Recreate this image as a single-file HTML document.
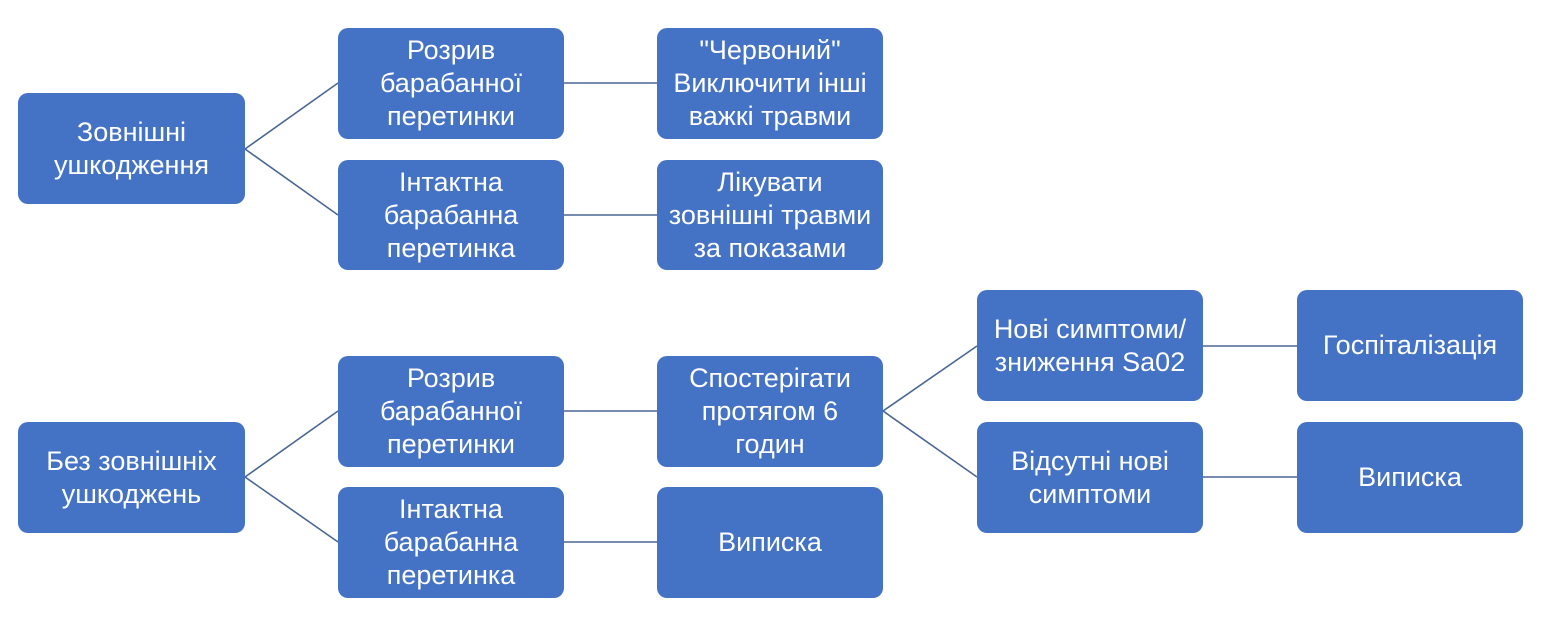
<!DOCTYPE html>
<html>
<head>
<meta charset="utf-8">
<style>
  html, body { margin:0; padding:0; background:#ffffff; }
  body { width:1556px; height:627px; position:relative; overflow:hidden;
         font-family:"Liberation Sans","DejaVu Sans",sans-serif; }
  .b { position:absolute; background:#4472c4; border-radius:10px;
       color:#ffffff; font-size:27px; line-height:33px; text-align:center;
       display:flex; align-items:center; justify-content:center; box-sizing:border-box; }
  svg { position:absolute; left:0; top:0; }
</style>
</head>
<body>
<svg width="1556" height="627" viewBox="0 0 1556 627">
  <g stroke="#4a6694" stroke-width="1.6" fill="none">
    <line x1="245" y1="149" x2="338" y2="83"/>
    <line x1="245" y1="149" x2="338" y2="215"/>
    <line x1="564" y1="83" x2="657" y2="83"/>
    <line x1="564" y1="215" x2="657" y2="215"/>
    <line x1="245" y1="477" x2="338" y2="411"/>
    <line x1="245" y1="477" x2="338" y2="542"/>
    <line x1="564" y1="411" x2="657" y2="411"/>
    <line x1="564" y1="542" x2="657" y2="542"/>
    <line x1="883" y1="411" x2="977" y2="346"/>
    <line x1="883" y1="411" x2="977" y2="477"/>
    <line x1="1203" y1="346" x2="1297" y2="346"/>
    <line x1="1203" y1="477" x2="1297" y2="477"/>
  </g>
</svg>

<div class="b" style="left:18px;top:93px;width:227px;height:111px;">Зовнішні<br>ушкодження</div>
<div class="b" style="left:338px;top:28px;width:226px;height:111px;">Розрив<br>барабанної<br>перетинки</div>
<div class="b" style="left:338px;top:160px;width:226px;height:110px;">Інтактна<br>барабанна<br>перетинка</div>
<div class="b" style="left:657px;top:28px;width:226px;height:111px;">"Червоний"<br>Виключити інші<br>важкі травми</div>
<div class="b" style="left:657px;top:160px;width:226px;height:110px;">Лікувати<br>зовнішні травми<br>за показами</div>

<div class="b" style="left:18px;top:422px;width:227px;height:111px;">Без зовнішніх<br>ушкоджень</div>
<div class="b" style="left:338px;top:356px;width:226px;height:111px;">Розрив<br>барабанної<br>перетинки</div>
<div class="b" style="left:338px;top:487px;width:226px;height:111px;">Інтактна<br>барабанна<br>перетинка</div>
<div class="b" style="left:657px;top:356px;width:226px;height:111px;">Спостерігати<br>протягом 6<br>годин</div>
<div class="b" style="left:657px;top:487px;width:226px;height:111px;">Виписка</div>

<div class="b" style="left:977px;top:290px;width:226px;height:111px;">Нові симптоми/<br>зниження Sa02</div>
<div class="b" style="left:977px;top:422px;width:226px;height:111px;">Відсутні нові<br>симптоми</div>
<div class="b" style="left:1297px;top:290px;width:226px;height:111px;">Госпіталізація</div>
<div class="b" style="left:1297px;top:422px;width:226px;height:111px;">Виписка</div>
</body>
</html>
